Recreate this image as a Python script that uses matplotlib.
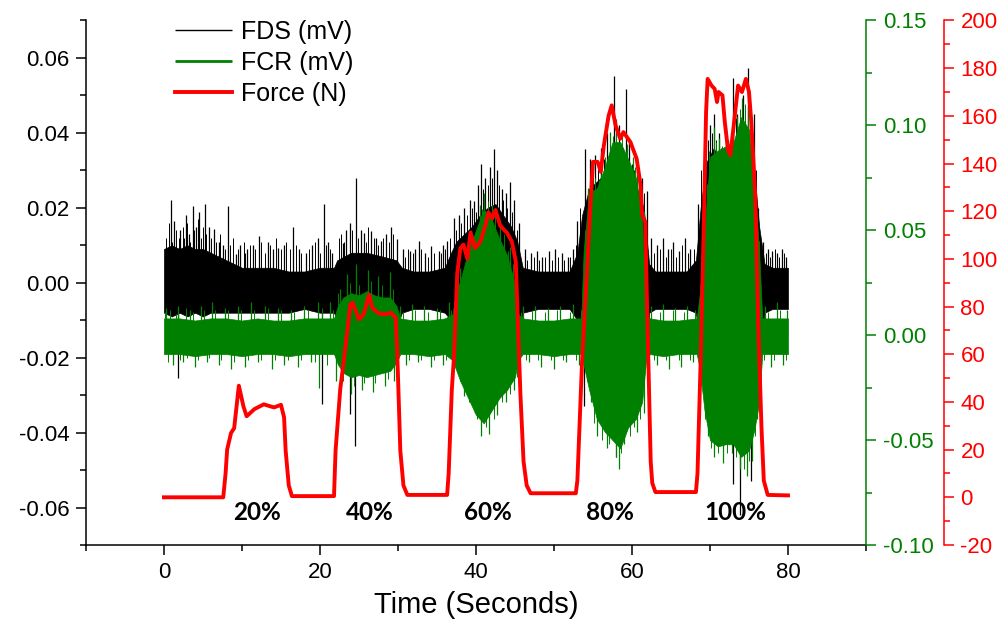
import matplotlib
matplotlib.use("Agg")
import matplotlib.pyplot as plt
from matplotlib.ticker import MultipleLocator, FormatStrFormatter

plt.rcParams['font.family'] = ['Liberation Sans', 'DejaVu Sans']
plt.rcParams['axes.unicode_minus'] = False

GREEN = '#008000'
RED = '#ff0000'

# FDS (mV) - dense band envelope, left axis
fds_t = [0, 1, 2, 3, 4, 5, 6, 7, 8, 10, 12, 14, 16, 18, 20, 21.8, 22.2, 24, 26, 28, 29.8,
         30.5, 32, 34, 36, 36.8, 37.5, 38.5, 39.5, 40.5, 41.5, 42.5, 43.5, 44.5, 45.3, 46,
         48, 50, 52, 53, 53.6, 54.5, 55.5, 56.5, 57.5, 58.5, 59.5, 60.5, 61.5, 62.2, 63, 65,
         67, 68.2, 68.8, 69.5, 70.5, 71.5, 72.5, 73.5, 74.5, 75.5, 76.3, 77, 78, 80]
fds_hi = [0.009, 0.010, 0.009, 0.010, 0.009, 0.009, 0.008, 0.007, 0.006, 0.004, 0.004, 0.004,
          0.003, 0.003, 0.004, 0.004, 0.006, 0.008, 0.008, 0.007, 0.006, 0.004, 0.003, 0.003,
          0.004, 0.008, 0.011, 0.013, 0.015, 0.018, 0.020, 0.021, 0.018, 0.015, 0.011, 0.004,
          0.003, 0.003, 0.003, 0.008, 0.018, 0.025, 0.027, 0.029, 0.032, 0.030, 0.030, 0.026,
          0.020, 0.005, 0.003, 0.003, 0.003, 0.006, 0.020, 0.032, 0.036, 0.030, 0.032, 0.038,
          0.040, 0.034, 0.015, 0.005, 0.004, 0.004]
fds_lo = [-0.008, -0.009, -0.008, -0.009, -0.008, -0.009, -0.008, -0.008, -0.008, -0.008,
          -0.008, -0.008, -0.008, -0.007, -0.008, -0.008, -0.010, -0.014, -0.013, -0.012,
          -0.012, -0.008, -0.007, -0.007, -0.008, -0.010, -0.014, -0.018, -0.020, -0.022,
          -0.022, -0.022, -0.020, -0.018, -0.014, -0.008, -0.007, -0.007, -0.007, -0.010,
          -0.018, -0.026, -0.030, -0.032, -0.034, -0.034, -0.032, -0.030, -0.026, -0.008,
          -0.007, -0.007, -0.007, -0.008, -0.020, -0.030, -0.036, -0.038, -0.036, -0.040,
          -0.042, -0.038, -0.020, -0.008, -0.007, -0.007]

# FDS tall spikes (time, peak value)
fds_spk_t = [0.9, 1.3, 1.75, 2.1, 2.8, 3.2, 3.7, 4.1, 4.5, 5.2, 5.8, 6.4, 7.0, 7.6, 8.2, 9.2,
             9.8, 10.7, 11.4, 12.2, 13.3, 14.0, 14.6, 15.4, 16.5, 17.3, 18.2, 19.0, 19.7, 20.3,
             20.5, 21.0, 21.6, 22.9, 23.4, 23.9, 23.9, 24.5, 24.6, 25.2, 25.6, 26.5, 27.2, 27.8,
             28.5, 29.1, 29.9, 30.6, 31.6, 32.2, 32.7, 33.5, 34.2, 35.2, 35.8, 36.3, 37.2, 37.8,
             38.5, 39.2, 39.7, 40.2, 40.6, 41.2, 41.8, 42.3, 42.7, 43.3, 43.8, 44.3, 44.9, 45.5,
             46.3, 47.0, 47.8, 48.5, 49.3, 50.1, 51.0, 51.8, 52.5, 53.0, 53.8, 54.0, 54.6, 55.3,
             56.0, 56.8, 57.7, 57.9, 58.4, 59.2, 59.6, 60.0, 60.7, 61.3, 61.9, 62.5, 63.2, 64.0,
             64.6, 65.3, 66.0, 66.8, 67.5, 68.5, 69.4, 70.0, 70.5, 71.1, 71.7, 72.3, 73.0, 73.0,
             73.5, 73.9, 74.2, 74.9, 75.2, 75.6, 76.2, 76.8, 77.4, 78.0, 78.6, 79.2, 79.8]
fds_spk_v = [0.022, 0.0165, -0.0253, 0.014, 0.018, 0.013, 0.0205, 0.015, 0.019, 0.021, 0.0148,
             0.0144, 0.011, 0.010, 0.0205, 0.0077, 0.010, 0.009, 0.010, 0.0125, 0.011, 0.009,
             0.0094, 0.010, 0.0148, 0.009, 0.008, 0.010, 0.012, -0.0323, 0.021, 0.011, 0.008,
             0.0107, 0.014, 0.016, -0.035, -0.0435, 0.028, 0.014, 0.0134, 0.0139, 0.012, 0.0112,
             0.013, 0.0148, 0.0116, 0.009, 0.0085, 0.009, 0.0112, 0.008, 0.0099, 0.0085, 0.010,
             0.0112, 0.0174, 0.018, 0.020, 0.022, 0.0219, 0.026, 0.0316, 0.028, 0.031, 0.0357,
             0.030, 0.025, 0.024, 0.027, 0.022, 0.016, 0.009, 0.008, 0.0085, 0.007, 0.0085,
             0.009, 0.008, 0.007, 0.009, 0.0165, -0.033, 0.0357, 0.033, 0.034, 0.036, 0.040,
             0.0552, -0.0466, 0.042, 0.0516, 0.038, 0.0316, 0.030, 0.028, 0.0245, 0.012, 0.010,
             0.012, 0.009, 0.011, 0.0085, 0.012, 0.009, 0.021, 0.040, 0.042, 0.045, 0.040, 0.035,
             0.038, 0.0547, -0.0537, 0.045, -0.062, 0.050, 0.0574, -0.053, 0.045, 0.020, 0.011,
             0.009, 0.0085, 0.008, 0.009, 0.007]

# FDS short hairs on the band edge
fds_hair_t = [0.2, 0.6, 1.0, 1.5, 1.9, 2.4, 2.6, 3.0, 3.4, 3.9, 4.3, 4.7, 5.0, 5.4, 6.0, 6.7,
              7.2, 7.8, 8.5, 8.9, 9.5, 10.2, 10.4, 11.0, 11.7, 12.5, 12.9, 13.6, 14.3, 15.0,
              15.7, 16.1, 16.9, 17.6, 18.6, 19.3, 20.0, 20.8, 21.3, 22.4, 22.7, 23.1, 24.1, 24.9,
              25.9, 26.2, 26.9, 27.5, 28.1, 28.8, 29.4, 30.9, 31.3, 31.9, 33.0, 33.8, 34.6, 35.5,
              36.0, 36.7, 37.5, 38.1, 38.8, 39.5, 40.0, 40.9, 41.5, 42.0, 42.9, 43.5, 44.0, 44.6,
              45.2, 46.6, 47.4, 48.1, 48.9, 49.7, 50.5, 51.3, 52.1, 52.8, 53.4, 55.0, 55.7, 56.4,
              57.2, 58.0, 58.8, 60.3, 61.0, 61.6, 62.8, 63.6, 64.3, 65.0, 65.7, 66.4, 67.2, 67.9,
              68.9, 69.7, 70.2, 70.8, 71.4, 72.0, 72.7, 73.3, 74.5, 75.9, 77.2, 77.7, 78.3, 78.9,
              79.5]
fds_hair_v = [0.012, 0.016, 0.011, 0.014, 0.012, 0.015, 0.012, 0.016, 0.011, 0.014, 0.017,
              0.012, 0.015, 0.013, 0.012, 0.011, 0.013, 0.009, 0.010, 0.012, 0.009, 0.011,
              0.008, 0.010, 0.009, 0.011, 0.008, 0.010, 0.012, 0.009, 0.011, 0.009, 0.010,
              0.008, 0.009, 0.011, 0.008, 0.010, 0.009, 0.012, 0.013, 0.011, 0.014, 0.012,
              0.011, 0.015, 0.012, 0.010, 0.012, 0.011, 0.013, 0.007, 0.009, 0.008, 0.009,
              0.007, 0.008, 0.008, 0.009, 0.012, 0.014, 0.016, 0.018, 0.020, 0.019, 0.025,
              0.026, 0.028, 0.026, 0.022, 0.020, 0.019, 0.014, 0.006, 0.007, 0.006, 0.007,
              0.006, 0.007, 0.006, 0.007, 0.010, 0.020, 0.030, 0.031, 0.033, 0.036, 0.035,
              0.036, 0.030, 0.026, 0.024, 0.008, 0.009, 0.007, 0.009, 0.007, 0.010, 0.008,
              0.009, 0.030, 0.038, 0.040, 0.038, 0.036, 0.034, 0.036, 0.044, 0.046, 0.030,
              0.008, 0.007, 0.009, 0.007, 0.008]

# FCR (mV) - dense band envelope, green axis
fcr_t = [0, 2, 4, 6, 8, 10, 12, 14, 16, 18, 20, 21.8, 22.3, 23, 24, 25, 26, 27, 28, 29, 29.8,
         30.3, 32, 34, 36, 37.0, 37.4, 38, 39, 40, 41, 42, 43, 44, 45, 45.4, 46, 48, 50, 52,
         53.5, 53.8, 54.5, 55.5, 56.5, 57.5, 58.5, 59.5, 60.5, 61.3, 61.8, 62.3, 64, 66, 68.3,
         68.7, 69.3, 70, 71, 72, 73, 74, 75, 75.7, 76.3, 76.7, 78, 80]
fcr_hi = [0.008, 0.008, 0.007, 0.008, 0.008, 0.007, 0.008, 0.007, 0.007, 0.008, 0.008, 0.008,
          0.014, 0.018, 0.020, 0.019, 0.021, 0.019, 0.018, 0.018, 0.014, 0.008, 0.007, 0.007,
          0.008, 0.010, 0.020, 0.026, 0.040, 0.050, 0.060, 0.055, 0.046, 0.038, 0.024, 0.010,
          0.008, 0.007, 0.007, 0.008, 0.008, 0.040, 0.068, 0.070, 0.080, 0.092, 0.092, 0.084,
          0.075, 0.055, 0.010, 0.008, 0.007, 0.007, 0.008, 0.020, 0.050, 0.085, 0.088, 0.090,
          0.092, 0.104, 0.098, 0.072, 0.040, 0.008, 0.008, 0.008]
fcr_lo = [-0.009, -0.009, -0.010, -0.009, -0.009, -0.010, -0.009, -0.009, -0.010, -0.009,
          -0.009, -0.009, -0.014, -0.018, -0.020, -0.019, -0.020, -0.019, -0.018, -0.017,
          -0.013, -0.009, -0.009, -0.010, -0.009, -0.012, -0.016, -0.022, -0.030, -0.038,
          -0.042, -0.036, -0.030, -0.026, -0.020, -0.012, -0.009, -0.009, -0.010, -0.009,
          -0.009, -0.014, -0.026, -0.040, -0.046, -0.050, -0.054, -0.044, -0.040, -0.032,
          -0.012, -0.009, -0.010, -0.009, -0.009, -0.016, -0.036, -0.050, -0.053, -0.052,
          -0.052, -0.058, -0.055, -0.045, -0.032, -0.009, -0.009, -0.009]

# FCR tall spikes (time, peak value)
fcr_spk_t = [0.3, 1.2, 1.8, 2.5, 3.3, 4.0, 4.8, 5.5, 6.2, 7.0, 7.8, 8.6, 9.5, 10.4, 11.2, 12.0,
             13.0, 13.8, 14.6, 15.4, 16.3, 17.2, 18.0, 18.9, 19.8, 19.9, 21.3, 22.0, 22.6, 23.5,
             24.0, 24.6, 25.4, 26.1, 26.8, 27.5, 28.3, 29.0, 29.5, 30.2, 31.0, 31.8, 32.6, 33.4,
             34.2, 35.0, 35.8, 36.5, 37.4, 38.0, 38.5, 39.3, 39.9, 40.5, 40.7, 41.0, 41.7, 42.1,
             42.7, 43.1, 43.8, 44.4, 44.9, 45.1, 46.0, 46.8, 47.6, 48.4, 49.2, 50.0, 50.8, 51.6,
             52.4, 53.2, 54.3, 54.7, 54.9, 55.5, 56.0, 56.8, 57.2, 57.9, 58.3, 59.0, 59.4, 60.1,
             60.7, 60.7, 61.5, 61.5, 62.5, 63.2, 64.0, 64.8, 65.5, 66.3, 67.0, 67.8, 69.0, 69.6,
             69.8, 70.5, 70.5, 71.1, 71.7, 72.0, 72.6, 72.8, 73.5, 73.9, 74.1, 74.7, 74.9, 75.4,
             75.6, 76.0, 76.0, 77.0, 77.8, 78.6, 79.4, 79.9]
fcr_spk_v = [0.013, -0.014, 0.014, -0.013, 0.012, -0.015, 0.014, -0.013, 0.016, -0.014, 0.013,
             -0.016, 0.014, -0.015, 0.016, -0.013, 0.014, -0.016, 0.013, -0.014, 0.012, -0.015,
             0.014, -0.013, 0.016, -0.025, 0.016, -0.022, 0.022, 0.029, -0.028, 0.034, -0.026,
             0.031, -0.027, 0.028, -0.024, 0.030, -0.022, 0.014, -0.014, 0.015, -0.013, 0.014,
             -0.015, 0.013, -0.014, 0.016, 0.025, 0.032, -0.029, 0.050, -0.037, 0.062, -0.048,
             0.068, -0.047, 0.062, -0.038, 0.052, -0.032, 0.042, -0.026, 0.028, 0.014, -0.013,
             0.014, -0.015, 0.013, -0.016, 0.014, -0.013, 0.015, -0.014, 0.070, -0.032, 0.083,
             -0.048, 0.077, -0.054, 0.097, 0.103, -0.064, -0.052, 0.091, 0.085, -0.046, 0.081,
             0.059, -0.037, 0.014, -0.014, 0.015, -0.016, 0.013, -0.015, 0.014, -0.013, 0.026,
             0.072, -0.048, 0.099, -0.058, 0.094, -0.061, 0.099, 0.087, -0.056, 0.104, -0.064,
             0.113, -0.067, 0.109, -0.060, 0.080, 0.056, -0.040, 0.014, -0.015, 0.016, -0.014,
             0.012]

# FCR short hairs on the band edge
fcr_hair_t = [0.1, 0.5, 0.8, 1.5, 2.1, 2.8, 3.0, 3.7, 4.4, 5.1, 5.8, 6.6, 7.3, 8.2, 9.0, 9.9,
              10.8, 11.6, 12.5, 13.4, 14.2, 15.0, 15.9, 16.7, 17.6, 18.5, 19.4, 20.2, 20.9,
              21.7, 22.3, 23.0, 23.8, 24.3, 25.0, 25.7, 26.5, 27.1, 27.9, 28.7, 29.3, 29.8,
              30.6, 31.4, 32.2, 33.0, 33.8, 34.6, 35.4, 36.2, 36.8, 37.7, 37.9, 38.7, 39.1,
              39.6, 40.1, 40.8, 41.3, 41.5, 42.4, 42.3, 43.4, 43.6, 44.1, 44.4, 44.7, 45.3,
              45.8, 46.4, 47.2, 48.0, 48.8, 49.6, 50.4, 51.2, 52.0, 52.8, 53.5, 54.0, 54.2,
              55.2, 55.1, 55.8, 56.2, 56.6, 57.0, 57.6, 58.0, 58.7, 58.6, 59.2, 59.7, 60.3,
              60.4, 61.0, 61.0, 62.1, 62.8, 63.6, 64.4, 65.2, 66.0, 66.7, 67.4, 68.1, 68.8,
              68.9, 69.4, 69.9, 70.1, 70.8, 71.0, 71.5, 72.2, 72.3, 72.9, 73.3, 73.8, 74.3,
              74.5, 75.0, 75.2, 75.8, 76.3, 76.4, 76.9, 77.4, 78.2, 79.0, 79.7]
fcr_hair_v = [0.011, -0.013, 0.012, 0.010, -0.012, 0.013, -0.011, 0.011, -0.012, 0.012,
              -0.011, 0.012, -0.012, 0.012, -0.013, 0.012, -0.012, 0.012, -0.012, 0.013,
              -0.012, 0.012, -0.012, 0.011, -0.012, 0.012, -0.013, 0.013, -0.014, 0.012,
              0.020, -0.022, 0.025, -0.024, 0.024, -0.023, 0.026, -0.023, 0.024, -0.021,
              0.022, -0.016, 0.011, -0.012, 0.012, -0.012, 0.011, -0.012, 0.012, -0.012,
              0.012, 0.028, -0.022, 0.036, -0.032, 0.045, -0.040, 0.060, -0.044, 0.064,
              0.058, -0.040, -0.032, 0.048, 0.040, -0.028, 0.034, -0.020, 0.011, -0.012,
              0.012, -0.012, 0.011, -0.012, 0.012, -0.012, 0.011, -0.012, 0.012, 0.050,
              -0.022, 0.075, -0.042, 0.074, -0.050, 0.085, -0.052, 0.095, -0.058, 0.095,
              -0.056, 0.088, -0.048, -0.044, 0.080, 0.070, -0.040, 0.012, -0.012, 0.011,
              -0.012, 0.012, -0.012, 0.011, -0.012, 0.012, 0.032, -0.024, -0.040, 0.088,
              -0.054, 0.092, -0.056, 0.090, -0.056, 0.092, 0.094, -0.058, 0.108, -0.064,
              0.110, -0.060, 0.100, -0.048, 0.045, -0.034, -0.012, 0.011, -0.012, 0.012,
              -0.012]

# Force (N), red axis
force_t = [0, 7.6, 7.9, 8.1, 8.6, 9.0, 9.6, 10.2, 10.6, 11.6, 12.8, 14.1, 15.0, 15.4, 15.6,
           16.0, 16.4, 21.8, 22.0, 22.6, 23.1, 23.9, 24.2, 25.0, 25.6, 26.3, 26.7, 27.4, 28.2,
           29.1, 29.7, 29.9, 30.3, 30.7, 31.2, 36.3, 36.5, 36.9, 37.2, 37.6, 38.0, 38.4, 38.9,
           39.3, 39.9, 40.6, 41.2, 41.6, 42.1, 42.5, 43.1, 44.0, 44.6, 45.1, 45.4, 45.7, 46.1,
           46.5, 47.0, 52.8, 53.0, 53.6, 54.3, 54.7, 55.0, 55.6, 56.0, 56.4, 57.0, 57.4, 57.9,
           58.5, 58.9, 59.8, 60.6, 61.1, 61.3, 61.7, 61.9, 62.1, 62.4, 62.6, 63.0, 68.2, 68.4,
           68.8, 69.2, 69.5, 69.7, 70.2, 70.6, 70.9, 71.1, 71.6, 71.9, 72.3, 72.6, 73.0, 73.6,
           74.1, 74.6, 75.0, 75.3, 75.8, 76.2, 76.6, 76.9, 77.4, 80.0]
force_n = [0, 0, 10, 20, 27, 29, 46.8, 38, 34, 37, 39, 37.7, 38.8, 33.5, 19.6,
           5, 0.5, 0.5, 19.6, 45.4, 58.6, 80.9, 81.6, 74.6, 76.7, 85, 79.5, 77.4, 76.7,
           77.4, 75.3, 61.4, 19.6, 5, 1, 1, 10, 45, 60, 94, 104.5, 106, 100,
           111, 104.5, 107.5, 114, 119.5, 117, 120.5, 114, 110.8, 107.3, 99, 71, 43, 15,
           5, 1.7, 1.7, 7, 57, 99, 124, 140.7, 140.7, 136.5, 147.7, 160, 164.4, 156,
           150.4, 153.2, 149, 142, 131, 118.5, 115.6, 85, 57, 15, 6, 2.2, 2.2, 10,
           57, 113, 161.6, 175.5, 172.7, 171.3, 165.8, 170, 168.6, 157.4, 146, 143.5, 154.6, 172.7,
           170, 175.5, 170, 157.4, 126.8, 71, 29.4, 7, 1, 0.8]

pct_labels = ['20%', '40%', '60%', '80%', '100%']
pct_t = [11.9, 26.4, 41.5, 57.2, 73.2]

fig = plt.figure(figsize=(10.03, 6.36), dpi=100)
ax = fig.add_axes([0.0857, 0.1431, 0.7777, 0.8247])
ax2 = ax.twinx()
ax3 = ax.twinx()

ax.fill_between(fds_t, fds_lo, fds_hi, color='black', lw=0.5)
ax.vlines(fds_hair_t, 0, fds_hair_v, color='black', lw=0.7)
fds_lines = ax.vlines(fds_spk_t, 0, fds_spk_v, color='black', lw=0.9, label='FDS (mV)')
ax2.fill_between(fcr_t, fcr_lo, fcr_hi, color=GREEN, lw=0.5)
ax2.vlines(fcr_hair_t, 0, fcr_hair_v, color=GREEN, lw=0.7)
fcr_lines = ax2.vlines(fcr_spk_t, 0, fcr_spk_v, color=GREEN, lw=0.9, label='FCR (mV)')
force_line, = ax3.plot(force_t, force_n, color=RED, lw=2.8, label='Force (N)')

for lab, t in zip(pct_labels, pct_t):
    ax.text(t, -0.0613, lab, ha='center', va='center', fontsize=17.5,
            fontweight='bold', family=['Lato', 'DejaVu Sans'])

ax.set_xlim(-10, 90)
ax.set_ylim(-0.07, 0.07)
ax2.set_ylim(-0.10, 0.15)
ax3.set_ylim(-20, 200)

ax.xaxis.set_major_locator(MultipleLocator(20))
ax.xaxis.set_minor_locator(MultipleLocator(10))
ax.yaxis.set_major_locator(MultipleLocator(0.02))
ax.yaxis.set_minor_locator(MultipleLocator(0.01))
ax.yaxis.set_major_formatter(FormatStrFormatter('%.2f'))
ax2.yaxis.set_major_locator(MultipleLocator(0.05))
ax2.yaxis.set_minor_locator(MultipleLocator(0.025))
ax2.yaxis.set_major_formatter(FormatStrFormatter('%.2f'))
ax3.yaxis.set_major_locator(MultipleLocator(20))
ax3.yaxis.set_minor_locator(MultipleLocator(10))

for a in (ax, ax2, ax3):
    a.spines['top'].set_visible(False)
    for s in a.spines.values():
        s.set_linewidth(1.1)
ax.spines['right'].set_visible(False)
for a in (ax2, ax3):
    a.spines['left'].set_visible(False)
    a.spines['bottom'].set_visible(False)
ax2.spines['right'].set_color(GREEN)
ax3.spines['right'].set_color(RED)
ax3.spines['right'].set_position(('outward', 56))

ax.tick_params(which='major', direction='out', length=7, width=1.1, labelsize=16, pad=5)
ax.tick_params(which='minor', direction='out', length=4, width=1.1)
ax2.tick_params(which='major', direction='out', length=7, width=1.1, labelsize=16, pad=5,
                color=GREEN, labelcolor=GREEN)
ax2.tick_params(which='minor', direction='out', length=4, width=1.1, color=GREEN)
ax3.tick_params(which='major', direction='out', length=7, width=1.1, labelsize=16, pad=5,
                color=RED, labelcolor=RED)
ax3.tick_params(which='minor', direction='out', length=4, width=1.1, color=RED)

ax.set_xlabel('Time (Seconds)', fontsize=21, labelpad=6)

leg = ax3.legend(handles=[fds_lines, fcr_lines, force_line], loc='upper left',
                 bbox_to_anchor=(175 / 1003, 1 - 20 / 636), bbox_transform=fig.transFigure,
                 frameon=False, fontsize=18, handlelength=2.3, handletextpad=0.35,
                 labelspacing=0.28, borderpad=0, borderaxespad=0)
for h, w in zip(leg.legend_handles, [1.0, 2.0, 2.8]):
    h.set_linewidth(w)

fig.savefig('out.png', dpi=100)
